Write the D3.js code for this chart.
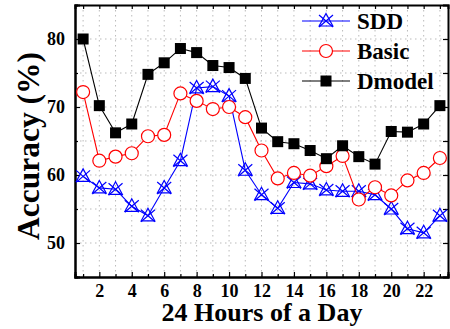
<!DOCTYPE html>
<html>
<head>
<meta charset="utf-8">
<script src="https://cdn.jsdelivr.net/npm/d3@7"></script>
<style>
  body { margin: 0; background: #fff; }
  svg { display: block; }
  svg text { font-family: "Liberation Serif", "Times New Roman", serif !important; font-weight: bold; fill: #000; }
</style>
</head>
<body>
<svg id="chart" width="450" height="329"></svg>
<script>
const hours = d3.range(1, 24);
const sdd    = [59.8, 58.1, 57.9, 55.4, 54.0, 58.1, 62.1, 72.8, 73.0, 71.6, 60.7, 57.1, 55.1, 58.9, 58.7, 57.8, 57.6, 57.6, 57.1, 55.0, 52.1, 51.5, 54.0];
const basic  = [72.2, 62.1, 62.7, 63.2, 65.7, 65.9, 72.0, 70.9, 69.7, 70.0, 68.5, 63.6, 59.5, 60.3, 59.9, 61.3, 62.8, 56.4, 58.2, 57.0, 59.2, 60.3, 62.5];
const dmodel = [80.0, 70.2, 66.2, 67.5, 74.8, 76.5, 78.6, 78.0, 76.1, 75.8, 74.2, 66.9, 64.9, 64.6, 63.6, 62.4, 64.3, 62.7, 61.6, 66.4, 66.3, 67.5, 70.2];
const xTicks = [2, 4, 6, 8, 10, 12, 14, 16, 18, 20, 22];
const yTicks = [50, 60, 70, 80];

const series = [
  { name: "SDD", values: sdd, color: "#0000ff", marker: "star" },
  { name: "Basic", values: basic, color: "#ff0000", marker: "circle" },
  { name: "Dmodel", values: dmodel, color: "#000000", marker: "square" }
];

const svg = d3.select("#chart");
const pL = 75, pR = 448, pT = 5, pB = 277;

const x = d3.scaleLinear().domain([0.5, 23.5]).range([pL, pR]);
const y = d3.scaleLinear().domain([45, 85]).range([pB, pT]);

// dotted grid
const grid = svg.append("g").attr("stroke", "#bbb").attr("stroke-dasharray", "1.5,3.5").attr("stroke-width", 1);
grid.selectAll("line.v").data(hours).enter().append("line")
  .attr("x1", d => x(d)).attr("x2", d => x(d)).attr("y1", pT).attr("y2", pB);
grid.selectAll("line.h").data(d3.range(50, 85, 5)).enter().append("line")
  .attr("y1", d => y(d)).attr("y2", d => y(d)).attr("x1", pL).attr("x2", pR);

// axes, ticks inward
svg.append("g").attr("transform", `translate(0,${pB})`)
  .call(d3.axisBottom(x).tickValues(xTicks).tickSize(-5).tickPadding(7).tickFormat(d3.format("d")));
svg.append("g").attr("transform", `translate(0,${pB})`)
  .call(d3.axisBottom(x).tickValues(hours.filter(h => h % 2)).tickSize(-3).tickFormat(""));
svg.append("g").attr("transform", `translate(${pL},0)`)
  .call(d3.axisLeft(y).tickValues(yTicks).tickSize(-5).tickPadding(10));
svg.append("g").attr("transform", `translate(${pL},0)`)
  .call(d3.axisLeft(y).tickValues([55, 65, 75]).tickSize(-3).tickFormat(""));
svg.append("g").attr("transform", `translate(0,${pT})`)
  .call(d3.axisTop(x).tickValues(hours).tickSize(-4).tickFormat(""));
svg.append("g").attr("transform", `translate(${pR},0)`)
  .call(d3.axisRight(y).tickValues(d3.range(50, 85, 5)).tickSize(-5).tickFormat(""));

svg.selectAll(".domain").attr("stroke-width", 2);
svg.selectAll(".tick line").attr("stroke-width", 1.2);
svg.selectAll(".tick text").attr("font-size", 18);

// markers
function drawMarker(g, type, color) {
  if (type === "square") {
    g.append("rect").attr("x", -5.5).attr("y", -5.5).attr("width", 11).attr("height", 11).attr("fill", color);
  } else if (type === "circle") {
    g.append("circle").attr("r", 6.5).attr("fill", "#fff").attr("stroke", color).attr("stroke-width", 1.2);
  } else {
    g.append("path").attr("d", "M0,-7.5L6.8,5L-6.8,5Z").attr("fill", "none").attr("stroke", color).attr("stroke-width", 1.2);
    g.append("path").attr("d", "M-7,-6L7,6M-7,6L7,-6").attr("stroke", color).attr("stroke-width", 1.2);
  }
}

const line = d3.line().x((d, i) => x(hours[i])).y(d => y(d));
series.forEach(s => {
  svg.append("path").datum(s.values).attr("d", line)
    .attr("fill", "none").attr("stroke", s.color).attr("stroke-width", 1.1);
  svg.append("g").selectAll("g").data(s.values).enter().append("g")
    .attr("transform", (d, i) => `translate(${x(hours[i])},${y(d)})`)
    .each(function () { drawMarker(d3.select(this), s.marker, s.color); });
});

// legend
const legend = svg.append("g");
series.forEach((s, i) => {
  const ly = 21 + i * 30;
  legend.append("line").attr("x1", 302).attr("x2", 350).attr("y1", ly).attr("y2", ly)
    .attr("stroke", s.color).attr("stroke-width", 1.1);
  drawMarker(legend.append("g").attr("transform", `translate(326,${ly})`), s.marker, s.color);
  legend.append("text").attr("x", 357).attr("y", ly + 8).attr("font-size", 23).text(s.name);
});

// axis titles
svg.append("text").attr("x", 262).attr("y", 321).attr("text-anchor", "middle")
  .attr("font-size", 26).text("24 Hours of a Day");
svg.append("text").attr("transform", "translate(39,146) rotate(-90)").attr("text-anchor", "middle")
  .attr("font-size", 31.5).text("Accuracy (%)");
</script>
</body>
</html>
